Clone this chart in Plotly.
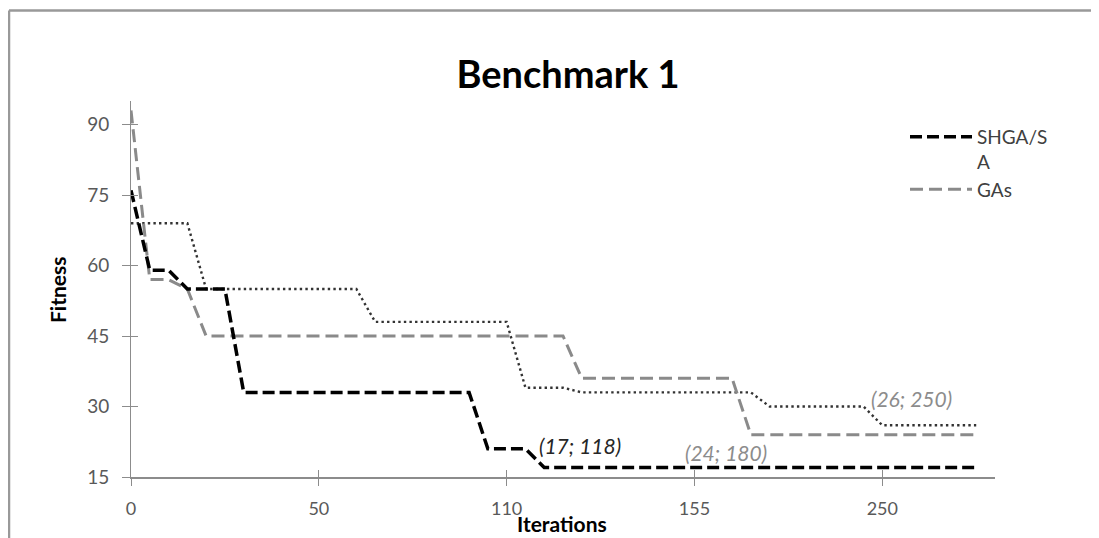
import plotly.graph_objects as go

# Break points (category index along x, fitness value)
shga_x = [0, 1, 2, 3, 5, 6, 18, 19, 21, 22, 45]
shga_y = [76, 59, 59, 55, 55, 33, 33, 21, 21, 17, 17]

gas_x = [0, 1, 2, 3, 4, 23, 24, 32, 33, 45]
gas_y = [93, 57, 57, 55, 45, 45, 36, 36, 24, 24]

sa_x = [0, 3, 4, 12, 13, 20, 21, 23, 24, 33, 34, 39, 40, 45]
sa_y = [69, 69, 55, 55, 48, 48, 34, 34, 33, 33, 30, 30, 26, 26]

x_tick_pos = [0, 10, 20, 30, 40]
x_tick_labels = ["0", "50", "110", "155", "250"]
y_ticks = [15, 30, 45, 60, 75, 90]

FONT = "Lato"
TICKC = "#595959"
AXC = "#8c8c8c"

# page body has an 8px margin: figure is drawn from (8, 8) on screen
W, H = 1091, 530
ML, MT, MR, MB = 123, 93, 104, 61
PW, PH = W - ML - MR, H - MT - MB  # 864 x 376; plot area on screen: x 131..995, y 101..477


def px(sx):
    return (sx - 131) / PW


def py(sy):
    return (477 - sy) / PH


fig = go.Figure()
fig.add_trace(go.Scatter(x=sa_x, y=sa_y, mode="lines", name="SA", showlegend=False,
                         line=dict(color="#333333", width=2.4, dash="2.4px,3.2px")))
fig.add_trace(go.Scatter(x=gas_x, y=gas_y, mode="lines", name="GAs",
                         line=dict(color="#8a8a8a", width=3, dash="13px,6px")))
fig.add_trace(go.Scatter(x=shga_x, y=shga_y, mode="lines", name="SHGA/S<br>A",
                         line=dict(color="#000000", width=3.5, dash="12px,5px")))

fig.update_layout(
    width=W, height=H,
    margin=dict(l=ML, r=MR, t=MT, b=MB),
    paper_bgcolor="white", plot_bgcolor="white",
    font=dict(family=FONT, size=18, color=TICKC),
    title=dict(text="<b>Benchmark 1</b>", x=(568 - 8) / W, xanchor="center",
               y=1 - (75 - 8) / H, yanchor="middle",
               font=dict(family=FONT, size=38, color="#000000")),
    legend=dict(x=px(905), xanchor="left", y=py(118), yanchor="top",
                traceorder="reversed", valign="top", itemwidth=62,
                font=dict(family=FONT, size=19, color="#404040"),
                bgcolor="rgba(0,0,0,0)", tracegroupgap=2),
    showlegend=True,
)
fig.update_xaxes(range=[0, 46], tickvals=x_tick_pos, ticktext=x_tick_labels,
                 showgrid=False, zeroline=False, showline=True, linecolor=AXC, linewidth=2,
                 ticks="outside", ticklen=7, tickcolor=AXC, tickwidth=1,
                 ticklabelstandoff=7, tickfont=dict(family=FONT, size=18, color=TICKC))
fig.update_yaxes(range=[15, 95], tickvals=y_ticks,
                 showgrid=False, zeroline=False, showline=True, linecolor=AXC, linewidth=1,
                 ticks="outside", ticklen=8, tickcolor=AXC, tickwidth=1,
                 ticklabelstandoff=9, tickfont=dict(family=FONT, size=19, color=TICKC))

# cross-style tick inner halves
fig.update_layout(
    xaxis2=dict(overlaying="x", anchor="y", side="bottom", range=[0, 46], tickvals=x_tick_pos,
                showticklabels=False, showgrid=False, zeroline=False, showline=False,
                ticks="inside", ticklen=7, tickcolor=AXC),
    yaxis2=dict(overlaying="y", anchor="x", side="left", range=[15, 95], tickvals=y_ticks,
                showticklabels=False, showgrid=False, zeroline=False, showline=False,
                ticks="inside", ticklen=7, tickcolor=AXC),
)
fig.add_trace(go.Scatter(x=[], y=[], xaxis="x2", yaxis="y2", showlegend=False, hoverinfo="skip"))

# axis titles
fig.add_annotation(text="<b>Iterations</b>", xref="paper", yref="paper", x=px(562),
                   y=py(523), showarrow=False, xanchor="center", yanchor="middle",
                   font=dict(family=FONT, size=21, color="#000000"))
fig.add_annotation(text="<b>Fitness</b>", xref="paper", yref="paper", x=px(57),
                   y=py(290), showarrow=False, textangle=-90, xanchor="center",
                   yanchor="middle", font=dict(family=FONT, size=21, color="#000000"))

# data labels
fig.add_annotation(text="<i>(17; 118)</i>", x=21.6, y=21.8, showarrow=False, xanchor="left",
                   yanchor="middle", font=dict(family=FONT, size=21, color="#262626"))
fig.add_annotation(text="<i>(24; 180)</i>", x=29.4, y=20.3, showarrow=False, xanchor="left",
                   yanchor="middle", font=dict(family=FONT, size=21, color="#8c8c8c"))
fig.add_annotation(text="<i>(26; 250)</i>", x=39.3, y=31.8, showarrow=False, xanchor="left",
                   yanchor="middle", font=dict(family=FONT, size=21, color="#8c8c8c"))

# chart area border (left and top edges visible in the window)
border = dict(color="#999999", width=2.5)
fig.add_shape(type="line", xref="paper", yref="paper", x0=px(9), x1=px(9),
              y0=py(10.5), y1=py(560), line=border, layer="below")
fig.add_shape(type="line", xref="paper", yref="paper", x0=px(9), x1=px(1120),
              y0=py(10.5), y1=py(10.5), line=border, layer="below")

fig.write_html("out.html", config={"displayModeBar": False},
               post_script="document.documentElement.style.overflow='hidden';"
                           "document.body.style.overflow='hidden';")
